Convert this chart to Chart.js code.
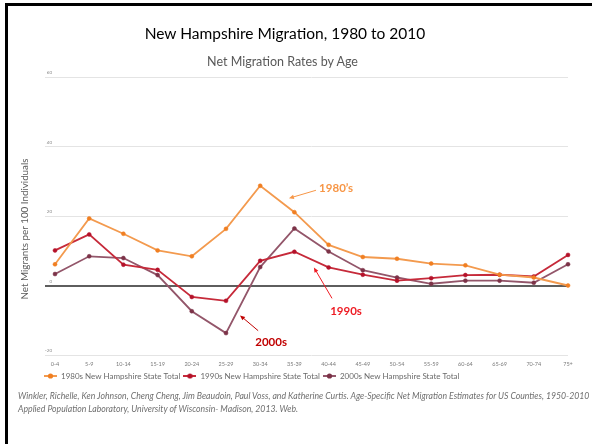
<!DOCTYPE html>
<html>
<head>
<meta charset="utf-8">
<script src="https://cdn.jsdelivr.net/npm/chart.js@4/dist/chart.umd.min.js"></script>
<style>
  html, body { margin: 0; padding: 0; background: #fff; }
  #wrap { position: relative; width: 592px; height: 444px; overflow: hidden; background: #fff; }
  #frameL { position: absolute; left: 5px; top: 3px; width: 3px; height: 441px; background: #000; }
  #frameT { position: absolute; left: 5px; top: 3px; width: 587px; height: 3px; background: #000; }
  #title { position: absolute; left: 0; width: 570px; top: 24px; text-align: center;
           font-family: Lato, "Open Sans", sans-serif; font-size: 15.5px; color: #000; white-space: nowrap; }
  #sub { position: absolute; left: 0; width: 565px; top: 54px; text-align: center;
         font-family: Lato, "Open Sans", sans-serif; font-size: 12.5px; color: #595959; white-space: nowrap; }
  #src { position: absolute; left: 18px; top: 390px; font-family: Lato, "Open Sans", sans-serif;
         font-style: italic; font-size: 8.7px; line-height: 12.5px; color: #6f6f6f; white-space: nowrap; }
  canvas { position: absolute; left: 0; top: 0; }
</style>
</head>
<body>
<div id="wrap">
  <canvas id="c" width="592" height="444"></canvas>
  <div id="frameL"></div>
  <div id="frameT"></div>
  <div id="title">New Hampshire Migration, 1980 to 2010</div>
  <div id="sub">Net Migration Rates by Age</div>
  <div id="src">Winkler, Richelle, Ken Johnson, Cheng Cheng, Jim Beaudoin, Paul Voss, and Katherine Curtis. Age-Specific Net Migration Estimates for US Counties, 1950-2010<br>Applied Population Laboratory, University of Wisconsin- Madison, 2013. Web.</div>
</div>
<script>
// ---- data ----
const ageGroups = ["0-4","5-9","10-14","15-19","20-24","25-29","30-34","35-39","40-44","45-49","50-54","55-59","60-64","65-69","70-74","75+"];
const nh1980s = [6.1, 19.3, 14.9, 10.1, 8.4, 16.3, 28.7, 21.1, 11.7, 8.2, 7.7, 6.3, 5.8, 3.1, 2.3, 0.0];
const nh1990s = [10.1, 14.7, 6.0, 4.5, -3.3, -4.4, 7.1, 9.7, 5.2, 3.1, 1.4, 2.1, 3.0, 3.1, 2.6, 8.8];
const nh2000s = [3.3, 8.4, 7.9, 3.0, -7.4, -13.7, 5.3, 16.4, 9.8, 4.4, 2.3, 0.5, 1.4, 1.4, 0.8, 6.1];
const seriesNames = ["1980s New Hampshire State Total", "1990s New Hampshire State Total", "2000s New Hampshire State Total"];
const yTicks = [-20, 0, 20, 40, 60];
const yAxisTitle = "Net Migrants per 100 Individuals";
// annotation labels (in data coordinates: category index, value)
const annoText = ["1980\u2019s", "1990s", "2000s"];
const annoAt = [[8.22, 28.0], [8.51, -7.5], [6.32, -16.3]];
const annoFrom = [[7.63, 27.4], [8.10, -3.7], [5.94, -13.0]];
const annoTo = [[6.84, 25.1], [7.57, 5.2], [5.41, -8.6]];

// ---- styles ----
const lineColors = ["#F39A4E", "#C62A3A", "#93566A"];
const pointColors = ["#F07F22", "#B4122A", "#7C3348"];
const annoColors = ["#F79646", "#EE1C24", "#C00000"];

function markerImg(lc, pc) {
  const cv = document.createElement('canvas');
  cv.width = 13; cv.height = 6;
  const g = cv.getContext('2d');
  g.strokeStyle = lc; g.lineWidth = 2;
  g.beginPath(); g.moveTo(0, 3); g.lineTo(13, 3); g.stroke();
  g.fillStyle = pc; g.beginPath(); g.arc(6.5, 3, 2.6, 0, Math.PI * 2); g.fill();
  return cv;
}
const markers = lineColors.map((c, i) => markerImg(c, pointColors[i]));

const annoPlugin = {
  id: 'anno',
  afterDatasetsDraw(chart) {
    const { ctx, scales: { x, y } } = chart;
    ctx.save();
    annoText.forEach((t, i) => {
      const c = annoColors[i];
      const fx = x.getPixelForValue(annoFrom[i][0]), fy = y.getPixelForValue(annoFrom[i][1]);
      const tx = x.getPixelForValue(annoTo[i][0]), ty = y.getPixelForValue(annoTo[i][1]);
      ctx.strokeStyle = c; ctx.fillStyle = c; ctx.lineWidth = 1;
      const ang = Math.atan2(ty - fy, tx - fx);
      const hl = 5;
      ctx.beginPath(); ctx.moveTo(fx, fy);
      ctx.lineTo(tx - Math.cos(ang) * hl * 0.8, ty - Math.sin(ang) * hl * 0.8); ctx.stroke();
      ctx.beginPath();
      ctx.moveTo(tx, ty);
      ctx.lineTo(tx - hl * Math.cos(ang) + 2.2 * Math.sin(ang), ty - hl * Math.sin(ang) - 2.2 * Math.cos(ang));
      ctx.lineTo(tx - hl * Math.cos(ang) - 2.2 * Math.sin(ang), ty - hl * Math.sin(ang) + 2.2 * Math.cos(ang));
      ctx.closePath(); ctx.fill();
      ctx.font = "bold 11.5px Lato, 'Open Sans', sans-serif";
      ctx.textAlign = 'center'; ctx.textBaseline = 'middle';
      ctx.fillText(t, x.getPixelForValue(annoAt[i][0]), y.getPixelForValue(annoAt[i][1]));
    });
    // y-axis title
    ctx.translate(25, (chart.chartArea.top + chart.chartArea.bottom) / 2 + 13);
    ctx.rotate(-Math.PI / 2);
    ctx.fillStyle = '#5a5a5a';
    ctx.font = "9.8px Lato, 'Open Sans', sans-serif";
    ctx.fillText(yAxisTitle, 0, 0);
    ctx.restore();
  }
};

const series = [nh1980s, nh1990s, nh2000s];
new Chart(document.getElementById('c'), {
  type: 'line',
  data: {
    labels: ageGroups,
    datasets: series.map((d, i) => ({
      label: seriesNames[i],
      data: d,
      borderColor: lineColors[i],
      backgroundColor: pointColors[i],
      pointBackgroundColor: pointColors[i],
      pointBorderColor: pointColors[i],
      borderWidth: 1.8,
      pointRadius: 2,
      pointBorderWidth: 0.5,
      tension: 0,
      fill: false
    }))
  },
  options: {
    responsive: false,
    animation: false,
    devicePixelRatio: 1,
    layout: { padding: { left: 41, right: 24, top: 77, bottom: 54 } },
    plugins: {
      title: { display: false },
      tooltip: { enabled: false },
      legend: {
        position: 'bottom',
        align: 'start',
        labels: {
          usePointStyle: true,
          pointStyleWidth: 13,
          padding: 3,
          color: '#6a6a6a',
          font: { family: "Lato, 'Open Sans', sans-serif", size: 8 },
          generateLabels(chart) {
            return chart.data.datasets.map((ds, i) => ({
              text: ds.label,
              pointStyle: markers[i],
              fillStyle: pointColors[i],
              strokeStyle: lineColors[i],
              lineWidth: 0,
              hidden: false,
              datasetIndex: i,
              fontColor: '#6a6a6a'
            }));
          }
        }
      }
    },
    scales: {
      x: {
        type: 'category',
        offset: false,
        grid: { display: false, drawTicks: false },
        border: { display: false },
        ticks: {
          autoSkip: false, maxRotation: 0, padding: 6,
          color: '#7a7a7a',
          font: { family: "Lato, 'Open Sans', sans-serif", size: 5.5 }
        },
        afterFit(axis) { axis.height = 14; }
      },
      y: {
        min: -20, max: 60,
        afterBuildTicks(axis) { axis.ticks = yTicks.map(v => ({ value: v })); },
        border: { display: false },
        grid: {
          drawTicks: true,
          tickLength: 10,
          color: ctx => (ctx.tick && ctx.tick.value === 0) ? '#5e5e5e' : '#e4e4e4',
          tickColor: ctx => (ctx.tick && ctx.tick.value === 0) ? '#5e5e5e' : '#e4e4e4',
          lineWidth: ctx => (ctx.tick && ctx.tick.value === 0) ? 2 : 1
        },
        ticks: {
          padding: -7,
          labelOffset: -4,
          color: '#8a8a8a',
          font: { family: "Lato, 'Open Sans', sans-serif", size: 4.5 }
        },
        title: { display: false },
        afterFit(axis) { axis.width = 14; }
      }
    }
  },
  plugins: [annoPlugin]
});
</script>
</body>
</html>
